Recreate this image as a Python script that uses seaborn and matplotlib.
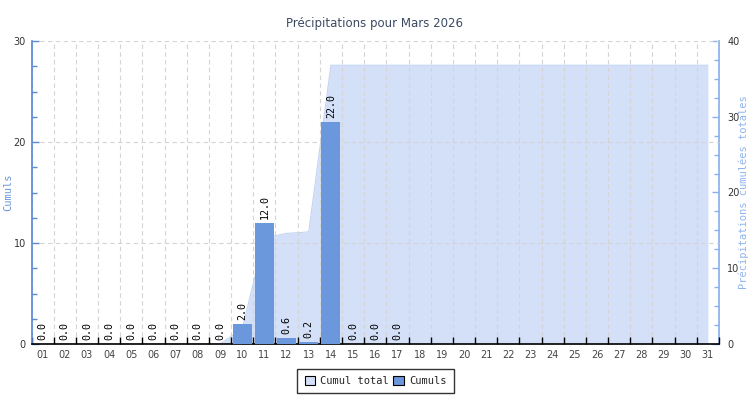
import numpy as np
import pandas as pd
import matplotlib
matplotlib.use("Agg")
import matplotlib.pyplot as plt
import seaborn as sns
from matplotlib.patches import Patch
from matplotlib.ticker import MultipleLocator, FixedLocator

# Daily rainfall (mm) for March 2026; days without a reading are left empty
days = [f"{d:02d}" for d in range(1, 32)]
daily_rain = [0.0, 0.0, 0.0, 0.0, 0.0, 0.0, 0.0, 0.0, 0.0, 2.0, 12.0, 0.6, 0.2,
              22.0, 0.0, 0.0, 0.0] + [np.nan] * 14
# Running total over the month
running_total = [0.0] * 9 + [2.0, 14.0, 14.6, 14.8] + [36.8] * 18

title = "Précipitations pour Mars 2026"
left_label = "Cumuls"
right_label = "Précipitations cumulées totales"
legend_labels = ["Cumul total", "Cumuls"]

bar_color = "#6b97dc"
area_color = "#d3e0f8"
mono = "DejaVu Sans Mono"

sns.set_theme(style="white")
plt.rcParams["font.family"] = ["DejaVu Sans"]

df = pd.DataFrame({"jour": days, "pluie": daily_rain, "cumul": running_total})

fig = plt.figure(figsize=(7.5, 4.0), dpi=100)
ax = fig.add_axes([31.5 / 750, 1 - 344 / 400, (719 - 31.5) / 750, (344 - 41) / 400])
ax2 = ax.twinx()

# cumulative area on the secondary axis
x_pos = np.arange(len(days))
ax2.fill_between(x_pos, df["cumul"], 0, color=area_color, linewidth=0, zorder=1)
ax2.plot(x_pos, df["cumul"], color="#c3d4f3", linewidth=0.8, zorder=2)
ax2.set_ylim(0, 40)

# daily bars on the primary axis, drawn above the area
ax.set_zorder(ax2.get_zorder() + 1)
ax.patch.set_visible(False)
sns.barplot(data=df, x="jour", y="pluie", order=days, color=bar_color,
            saturation=1, width=0.86, linewidth=0, edgecolor="none", ax=ax, zorder=3)
ax.set_xlim(-0.5, len(days) - 0.5)
ax.set_ylim(0, 30)

# value labels above bars
for i, v in enumerate(daily_rain):
    if np.isnan(v):
        continue
    ax.text(i, v + 0.35, f"{v:.1f}", rotation=90, ha="center", va="bottom",
            fontsize=7.2, family=mono, color="black", zorder=5)

# grid
ax.set_axisbelow(True)
ax.yaxis.set_major_locator(MultipleLocator(10))
ax.yaxis.set_minor_locator(MultipleLocator(2.5))
ax.xaxis.set_minor_locator(FixedLocator(np.arange(-0.5, len(days), 1.0)))
ax.grid(True, which="major", axis="y", color="#d4d4d4", linestyle=(0, (4, 3)), linewidth=0.8)
ax.grid(True, which="minor", axis="x", color="#d4d4d4", linestyle=(0, (4, 3)), linewidth=0.8)
ax.grid(False, which="major", axis="x")

# spines
ax.spines["top"].set_visible(False)
ax2.spines["top"].set_visible(False)
ax.spines["right"].set_visible(False)
ax2.spines["left"].set_visible(False)
ax2.spines["bottom"].set_visible(False)
ax.spines["left"].set_color("#5b8ad8")
ax.spines["bottom"].set_color("black")
ax.spines["bottom"].set_linewidth(1.2)
ax2.spines["right"].set_color("#8ab0f0")

# ticks
ax.tick_params(axis="x", which="major", length=0, pad=4, labelsize=7, labelcolor="#444444")
ax.tick_params(axis="x", which="minor", direction="in", length=5, width=1, color="black", bottom=True)
ax.tick_params(axis="y", which="major", direction="in", length=5, width=1, color="#5b8ad8",
               labelsize=7, labelcolor="#333333", pad=4, left=True)
ax.tick_params(axis="y", which="minor", direction="in", length=3.5, width=1, color="#5b8ad8", left=True)
ax2.yaxis.set_major_locator(MultipleLocator(10))
ax2.yaxis.set_minor_locator(MultipleLocator(2.5))
ax2.tick_params(axis="y", which="major", direction="in", length=5, width=1, color="#8ab0f0",
                labelsize=7, labelcolor="#333333", pad=6, right=True)
ax2.tick_params(axis="y", which="minor", direction="in", length=3.5, width=1, color="#8ab0f0", right=True)

ax.set_xlabel("")
ax.set_ylabel(left_label, family=mono, fontsize=7.5, color=bar_color)
ax2.set_ylabel(right_label, family=mono, fontsize=7.5, color="#8fb3f0")
ax_w = (719 - 31.5)
ax.yaxis.label.set_verticalalignment("center")
ax2.yaxis.label.set_verticalalignment("center")
ax.yaxis.set_label_coords((8 - 31.5) / ax_w, 0.5)
ax2.yaxis.set_label_coords((744 - 31.5) / ax_w, 0.5)

fig.suptitle(title, y=1 - 24 / 400, va="center", fontsize=8.5, color="#3b4a63")

handles = [Patch(facecolor=area_color, edgecolor="black", linewidth=0.8),
           Patch(facecolor=bar_color, edgecolor="black", linewidth=0.8)]
leg = fig.legend(handles, legend_labels, loc="center", bbox_to_anchor=(375.5 / 750, 1 - 381 / 400),
                 ncol=2, frameon=True, fancybox=False, prop={"family": mono, "size": 7.5},
                 handlelength=1.0, handleheight=1.0, handletextpad=0.5, columnspacing=0.4,
                 borderpad=0.7, edgecolor="black")
leg.get_frame().set_linewidth(1.0)

fig.savefig("out.png", dpi=100)
